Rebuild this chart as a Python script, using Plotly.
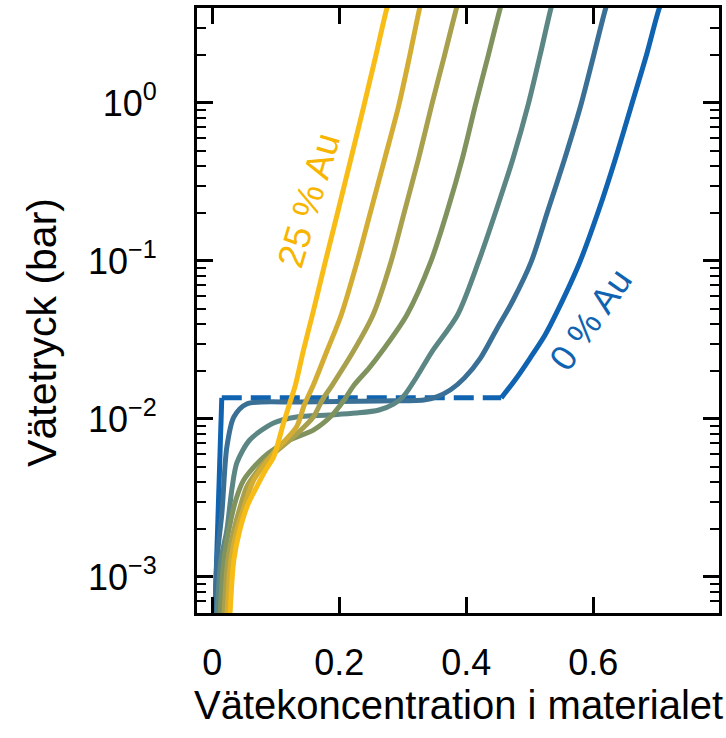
import plotly.graph_objects as go

# ---- data (x = hydrogen concentration, p = hydrogen pressure in bar) ----
# 0 % Au
x_au0_low = [0.004, 0.0095, 0.015]
p_au0_low = [5.5e-4, 2.75e-3, 1.36e-2]
x_au0_plateau = [0.015, 0.455]
p_au0_plateau = [1.36e-2, 1.36e-2]
x_au0_high = [0.4551, 0.4771, 0.5006, 0.5241, 0.5444, 0.5789, 0.6087, 0.6353, 0.6603, 0.6838, 0.7041, 0.712]
p_au0_high = [1.36e-2, 1.77e-2, 2.43e-2, 3.40e-2, 4.90e-2, 9.86e-2, 0.210, 0.449, 0.971, 2.01, 3.99, 4.7]

x_c1 = [0.0042, 0.0074, 0.0152, 0.0230, 0.0340, 0.0543, 0.1373, 0.2626, 0.3330, 0.3534, 0.3753, 0.3972,
        0.4223, 0.4473, 0.4739, 0.5022, 0.5288, 0.5554, 0.5805, 0.6008, 0.6197, 0.626]
p_c1 = [5.5e-4, 1.28e-3, 2.54e-3, 6.65e-3, 1.03e-2, 1.245e-2, 1.28e-2, 1.30e-2, 1.32e-2, 1.38e-2, 1.53e-2,
        1.82e-2, 2.43e-2, 3.66e-2, 5.66e-2, 9.86e-2, 0.210, 0.449, 0.971, 2.01, 3.99, 4.7]

x_c2 = [0.0074, 0.0136, 0.0230, 0.0308, 0.0387, 0.0590, 0.0966, 0.1326, 0.1843, 0.2266, 0.2626, 0.2861,
        0.3017, 0.3221, 0.3456, 0.3862, 0.4192, 0.4473, 0.4739, 0.4974, 0.5163, 0.5335, 0.539]
p_c2 = [5.5e-4, 1.28e-3, 1.98e-3, 3.56e-3, 5.27e-3, 7.36e-3, 9.44e-3, 1.03e-2, 1.06e-2, 1.09e-2, 1.14e-2,
        1.245e-2, 1.40e-2, 1.85e-2, 2.65e-2, 4.55e-2, 9.86e-2, 0.210, 0.449, 0.971, 2.01, 3.99, 4.7]

x_c3 = [0.0121, 0.0183, 0.0261, 0.0371, 0.0496, 0.0810, 0.1217, 0.1592, 0.1890, 0.2078, 0.2234, 0.2469,
        0.2688, 0.3064, 0.3440, 0.3706, 0.3941, 0.4145, 0.4348, 0.4536, 0.459]
p_c3 = [5.5e-4, 1.28e-3, 1.98e-3, 3.07e-3, 4.11e-3, 5.74e-3, 7.36e-3, 8.51e-3, 1.06e-2, 1.32e-2, 1.64e-2,
        2.10e-2, 2.73e-2, 4.55e-2, 9.86e-2, 0.210, 0.449, 0.971, 2.01, 3.99, 4.7]

x_c4 = [0.0183, 0.0246, 0.0340, 0.0449, 0.0543, 0.0700, 0.0857, 0.1279, 0.1592, 0.1733, 0.1890, 0.2234,
        0.2531, 0.2814, 0.3033, 0.3252, 0.3456, 0.3659, 0.3847, 0.390]
p_c4 = [5.5e-4, 1.28e-3, 1.98e-3, 2.86e-3, 3.72e-3, 4.62e-3, 5.51e-3, 7.69e-3, 1.03e-2, 1.32e-2, 1.64e-2,
        2.73e-2, 4.55e-2, 9.86e-2, 0.210, 0.449, 0.971, 2.01, 3.99, 4.7]

x_c5 = [0.0230, 0.0293, 0.0387, 0.0512, 0.0653, 0.0966, 0.1326, 0.1451, 0.1592, 0.1812, 0.2031, 0.2281,
        0.2500, 0.2720, 0.2939, 0.3112, 0.3268, 0.332]
p_c5 = [5.5e-4, 1.28e-3, 1.98e-3, 2.86e-3, 4.11e-3, 6.10e-3, 8.89e-3, 1.23e-2, 1.64e-2, 2.73e-2, 4.55e-2,
        9.86e-2, 0.210, 0.449, 0.971, 2.01, 3.99, 4.7]

x_c6 = [0.0277, 0.0340, 0.0434, 0.0559, 0.0700, 0.0841, 0.0966, 0.1123, 0.1217, 0.1310, 0.1437, 0.1577,
        0.1780, 0.1984, 0.2187, 0.2391, 0.2578, 0.2751, 0.281]
p_c6 = [5.5e-4, 1.28e-3, 1.98e-3, 2.86e-3, 3.72e-3, 4.75e-3, 5.74e-3, 9.44e-3, 1.245e-2, 1.64e-2, 2.73e-2,
        4.55e-2, 9.86e-2, 0.210, 0.449, 0.971, 2.01, 3.99, 4.7]

series_x = [x_c1, x_c2, x_c3, x_c4, x_c5, x_c6]
series_p = [p_c1, p_c2, p_c3, p_c4, p_c5, p_c6]
series_colors = ["#3a7096", "#5b8684", "#80935f", "#a9a04e", "#d3ad33", "#f8bc16"]
blue = "#0f63b1"

x_ticks = [0, 0.2, 0.4, 0.6]
x_ticktext = ["0", "0.2", "0.4", "0.6"]
y_ticks = [1e-3, 1e-2, 1e-1, 1]
y_ticktext = ["10<sup>\u22123</sup>", "10<sup>\u22122</sup>", "10<sup>\u22121</sup>", "10<sup>0</sup>"]

FONT = "Liberation Sans, Arial, Helvetica, sans-serif"

fig = go.Figure()

# 0 % Au: dashed plateau, then solid parts
fig.add_trace(go.Scatter(x=x_au0_plateau, y=p_au0_plateau, mode="lines",
                         line=dict(color=blue, width=5, dash="20px,9px"), hoverinfo="skip"))
fig.add_trace(go.Scatter(x=x_au0_low, y=p_au0_low, mode="lines",
                         line=dict(color=blue, width=5), hoverinfo="skip"))
fig.add_trace(go.Scatter(x=x_au0_high, y=p_au0_high, mode="lines",
                         line=dict(color=blue, width=5, shape="spline", smoothing=0.8), hoverinfo="skip"))

for xs, ps, c in zip(series_x, series_p, series_colors):
    fig.add_trace(go.Scatter(x=xs, y=ps, mode="lines",
                             line=dict(color=c, width=5, shape="spline", smoothing=0.8),
                             hoverinfo="skip"))

fig.add_annotation(x=0.153, y=-0.614, xref="x", yref="y", text="25 % Au", showarrow=False,
                   textangle=-73.5, font=dict(family=FONT, size=37, color="#f7b500"))
fig.add_annotation(x=0.596, y=-1.373, xref="x", yref="y", text="0 % Au", showarrow=False,
                   textangle=-55, font=dict(family=FONT, size=36, color=blue))

# axis titles
fig.add_annotation(x=0.5, y=-(705 - 613) / 605.0, xref="paper", yref="paper",
                   text="Vätekoncentration i materialet", showarrow=False,
                   font=dict(family=FONT, size=40, color="black"), yanchor="middle", xanchor="center")
fig.add_annotation(x=-(197 - 41) / 525.0, y=(613 - 332) / 605.0, xref="paper", yref="paper",
                   text="Vätetryck (bar)", showarrow=False, textangle=-90,
                   font=dict(family=FONT, size=41, color="black"), yanchor="middle", xanchor="center")

fig.update_layout(
    width=726, height=738,
    margin=dict(l=197, r=4, t=8, b=125),
    paper_bgcolor="white", plot_bgcolor="white",
    showlegend=False,
    font=dict(family=FONT, color="black"),
)

fig.update_xaxes(
    range=[-0.024, 0.798], tickvals=x_ticks, ticktext=x_ticktext,
    ticks="inside", ticklen=16, tickwidth=2.5, tickcolor="black",
    showline=True, linewidth=3, linecolor="black", mirror="ticks",
    showgrid=False, zeroline=False,
    tickfont=dict(family=FONT, size=36, color="black"), ticklabelstandoff=16,
)
fig.update_yaxes(
    type="log", range=[-3.228, 0.601], tickvals=y_ticks, ticktext=y_ticktext,
    ticks="inside", ticklen=16, tickwidth=2.5, tickcolor="black",
    minor=dict(ticks="inside", ticklen=9, tickwidth=2, tickcolor="black", dtick="D1", showgrid=False),
    showline=True, linewidth=3, linecolor="black", mirror="ticks",
    showgrid=False, zeroline=False,
    tickfont=dict(family=FONT, size=36, color="black"), ticklabelstandoff=30,
)

fig.write_html("out.html")
